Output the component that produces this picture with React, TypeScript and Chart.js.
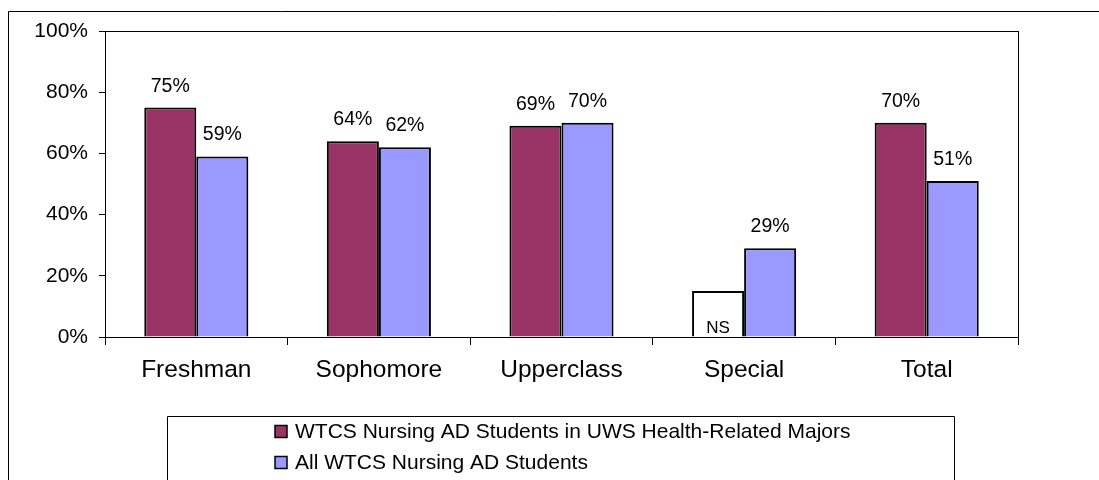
import React, { useEffect, useRef } from "react";
import { Chart, registerables } from "chart.js";

Chart.register(...registerables);

const categories = ["Freshman", "Sophomore", "Upperclass", "Special", "Total"];
const seriesNames = [
  "WTCS Nursing AD Students in UWS Health-Related Majors",
  "All WTCS Nursing AD Students",
];
const healthMajors = [75, 64, 69, 15, 70];
const healthMajorsNS = [false, false, false, true, false];
const allNursing = [59, 62, 70, 29, 51];
const yTicks = [0, 20, 40, 60, 80, 100];

const MAROON = "#993366";
const PERIWINKLE = "#9999FF";
const FONT = "'Liberation Sans', Arial, sans-serif";

const overlayPlugin = {
  id: "overlay",
  beforeDraw(chart: any) {
    const ctx = chart.ctx;
    ctx.save();
    ctx.fillStyle = "#ffffff";
    ctx.fillRect(0, 0, chart.width, chart.height);
    ctx.restore();
  },
  afterDraw(chart: any) {
    const ctx = chart.ctx;
    const a = chart.chartArea;
    ctx.save();
    // plot border
    ctx.strokeStyle = "#000";
    ctx.lineWidth = 1;
    ctx.strokeRect(Math.round(a.left) + 0.5, Math.round(a.top) + 0.5, Math.round(a.right - a.left), Math.round(a.bottom - a.top));

    // data labels
    ctx.fillStyle = "#000";
    ctx.textAlign = "center";
    chart.data.datasets.forEach((ds: any, di: number) => {
      const meta = chart.getDatasetMeta(di);
      meta.data.forEach((bar: any, i: number) => {
        const v = ds.data[i];
        if (ds.nsFlags && ds.nsFlags[i]) {
          ctx.font = `17px ${FONT}`;
          ctx.textBaseline = "alphabetic";
          ctx.fillText("NS", bar.x, a.bottom - 4);
        } else {
          ctx.font = `19.5px ${FONT}`;
          ctx.textBaseline = "alphabetic";
          ctx.fillText(`${v}%`, bar.x, bar.y - 16);
        }
      });
    });

    // legend box
    const lx = 167, ly = 416, lw = 787;
    ctx.lineWidth = 1;
    ctx.strokeStyle = "#000";
    ctx.beginPath();
    ctx.moveTo(lx + 0.5, chart.height + 5);
    ctx.lineTo(lx + 0.5, ly + 0.5);
    ctx.lineTo(lx + lw + 0.5, ly + 0.5);
    ctx.lineTo(lx + lw + 0.5, chart.height + 5);
    ctx.stroke();
    const rows = [431.5, 462.5];
    chart.data.datasets.forEach((ds: any, di: number) => {
      const cy = rows[di];
      ctx.fillStyle = ds.legendColor;
      ctx.fillRect(275, cy - 6, 12, 12);
      ctx.strokeStyle = "#000";
      ctx.lineWidth = 1.5;
      ctx.strokeRect(275, cy - 6, 12, 12);
      ctx.fillStyle = "#000";
      ctx.font = `21px ${FONT}`;
      ctx.textAlign = "left";
      ctx.textBaseline = "middle";
      ctx.fillText(ds.label, 295, cy + 1);
    });

    // outer frame
    ctx.lineWidth = 1;
    ctx.strokeStyle = "#000";
    ctx.beginPath();
    ctx.moveTo(8.5, chart.height + 5);
    ctx.lineTo(8.5, 11.5);
    ctx.lineTo(chart.width + 5, 11.5);
    ctx.stroke();
    ctx.restore();
  },
};

export default function App() {
  const ref = useRef<HTMLCanvasElement | null>(null);
  useEffect(() => {
    if (!ref.current) return;
    const chart = new Chart(ref.current, {
      type: "bar",
      data: {
        labels: categories,
        datasets: [
          {
            label: seriesNames[0],
            data: healthMajors,
            backgroundColor: healthMajorsNS.map((ns) => (ns ? "#ffffff" : MAROON)),
            borderColor: "#000",
            borderWidth: 2,
            nsFlags: healthMajorsNS,
            legendColor: MAROON,
          } as any,
          {
            label: seriesNames[1],
            data: allNursing,
            backgroundColor: PERIWINKLE,
            borderColor: "#000",
            borderWidth: 2,
            legendColor: PERIWINKLE,
          } as any,
        ],
      },
      options: {
        responsive: false,
        animation: false,
        layout: { padding: { top: 31, right: 81, bottom: 83, left: 0 } },
        datasets: { bar: { categoryPercentage: 0.57, barPercentage: 1 } },
        plugins: { legend: { display: false }, tooltip: { enabled: false } },
        scales: {
          x: {
            grid: { display: true, drawOnChartArea: false, drawTicks: true, tickLength: 8, color: "#000", offset: true },
            border: { display: true, color: "#000" },
            ticks: { color: "#000", font: { family: FONT, size: 24.5 }, padding: 11, maxRotation: 0 },
            afterFit: (s: any) => { s.height = 60; },
          },
          y: {
            min: 0,
            max: 100,
            afterBuildTicks: (s: any) => { s.ticks = yTicks.map((v) => ({ value: v })); },
            grid: { display: true, drawOnChartArea: false, drawTicks: true, tickLength: 6, color: "#000" },
            border: { display: true, color: "#000" },
            ticks: { color: "#000", font: { family: FONT, size: 21 }, padding: 11, callback: (v: any) => `${v}%` },
            afterFit: (s: any) => { s.width = 105; },
          },
        },
      },
      plugins: [overlayPlugin],
    });
    return () => chart.destroy();
  }, []);
  return (
    <div style={{ position: "fixed", left: 0, top: 0, width: 1099, height: 480, background: "#fff" }}>
      <canvas ref={ref} width={1099} height={480} style={{ display: "block" }} />
    </div>
  );
}
